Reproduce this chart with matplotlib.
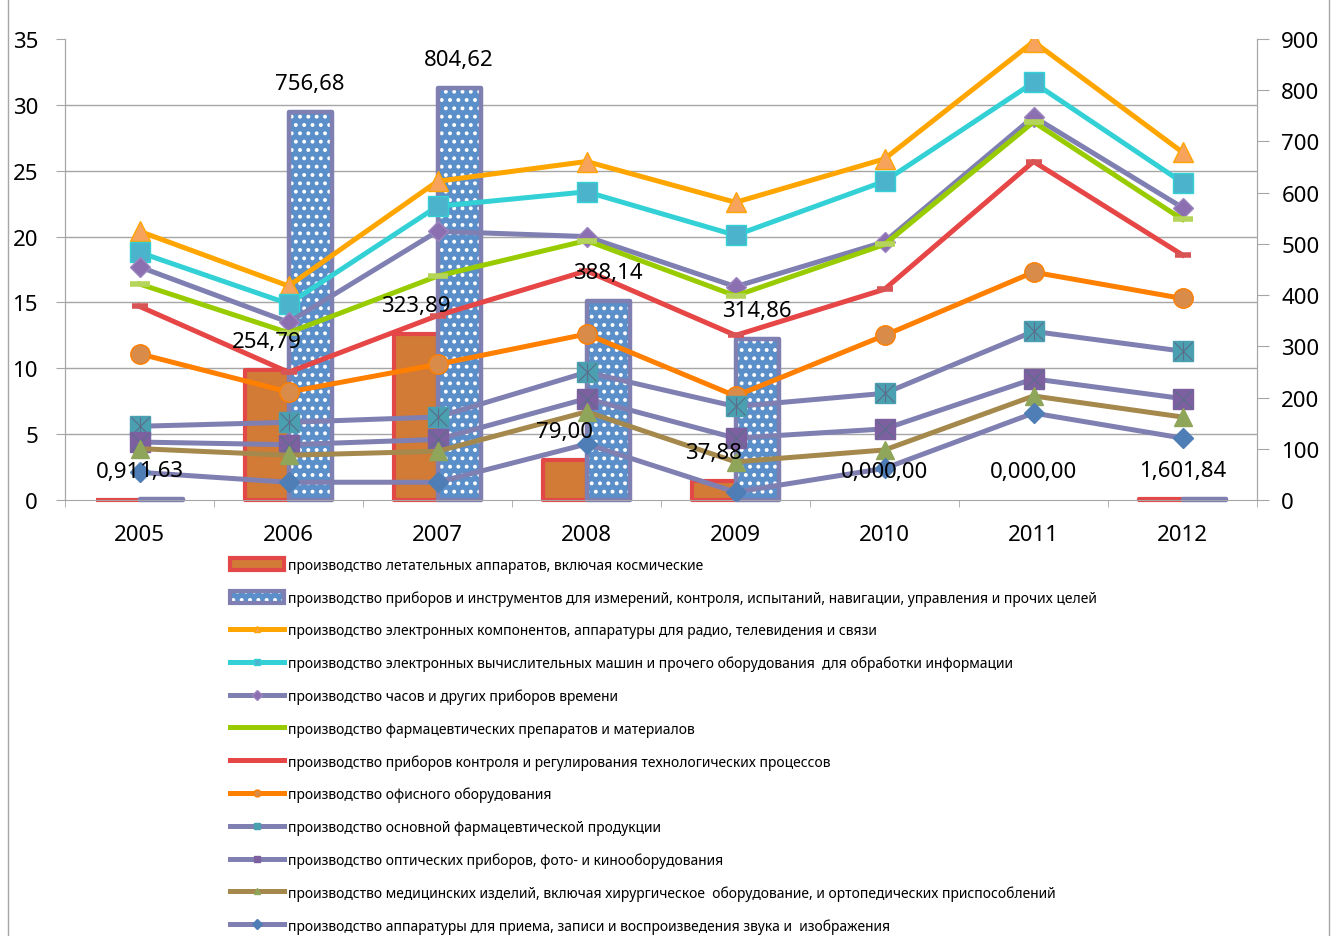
import numpy as np
import matplotlib.pyplot as plt
from matplotlib.lines import Line2D
from matplotlib.patches import Patch
from matplotlib.legend_handler import HandlerTuple

plt.rcParams['font.family'] = ['Noto Sans', 'DejaVu Sans']
plt.rcParams['hatch.linewidth'] = 1.6

years = ['2005', '2006', '2007', '2008', '2009', '2010', '2011', '2012']

# bar series (right axis)
aircraft = [0.91, 254.79, 323.89, 79.00, 37.88, 0.00, 0.00, 1.60]
instruments = [1.63, 756.68, 804.62, 388.14, 314.86, 0.00, 0.00, 1.84]

# line series (left axis)
electronics = [20.4, 16.25, 24.2, 25.7, 22.6, 25.9, 34.8, 26.4]
computers = [18.8, 14.9, 22.3, 23.4, 20.1, 24.2, 31.7, 24.1]
clocks = [17.7, 13.5, 20.4, 20.0, 16.2, 19.6, 29.1, 22.2]
pharma_prep = [16.4, 12.7, 17.0, 19.7, 15.5, 19.4, 28.7, 21.3]
control = [14.7, 9.7, 14.0, 17.4, 12.5, 16.0, 25.7, 18.6]
office = [11.1, 8.2, 10.3, 12.6, 7.9, 12.5, 17.3, 15.3]
pharma_base = [5.6, 5.9, 6.3, 9.7, 7.1, 8.1, 12.8, 11.3]
optics = [4.4, 4.2, 4.6, 7.7, 4.7, 5.4, 9.2, 7.7]
medical = [3.9, 3.4, 3.7, 6.7, 2.9, 3.8, 7.9, 6.3]
audio_video = [2.1, 1.35, 1.35, 4.25, 0.6, 2.4, 6.6, 4.7]

names = [
    'производство летательных аппаратов, включая космические',
    'производство приборов и инструментов для измерений, контроля, испытаний, навигации, управления и прочих целей',
    'производство электронных компонентов, аппаратуры для радио, телевидения и связи',
    'производство электронных вычислительных машин и прочего оборудования  для обработки информации',
    'производство часов и других приборов времени',
    'производство фармацевтических препаратов и материалов',
    'производство приборов контроля и регулирования технологических процессов',
    'производство офисного оборудования',
    'производство основной фармацевтической продукции',
    'производство оптических приборов, фото- и кинооборудования',
    'производство медицинских изделий, включая хирургическое  оборудование, и ортопедических приспособлений',
    'производство аппаратуры для приема, записи и воспроизведения звука и  изображения',
]

GRAY = '#A6A6A6'
SLATE = '#7F7FB2'

# (values, line color, marker, marker face, marker edge, marker size, extra overlay markers)
line_styles = [
    (electronics, '#FFA500', '^', '#F7A35C', '#FFA500', 14, []),
    (computers, '#33D1D6', 's', '#4BB4CC', '#33D1D6', 14, []),
    (clocks, SLATE, 'D', '#8B6FB0', '#9C86C0', 10, []),
    (pharma_prep, '#99CC00', '_', '#B5D55A', '#B5D55A', 14, []),
    (control, '#E64646', '_', '#D95555', '#D95555', 12, []),
    (office, '#FF7F00', 'o', '#D98C4A', '#FF7F00', 14, []),
    (pharma_base, SLATE, 's', '#4A9FB0', '#4A9FB0', 14, ['x', '|']),
    (optics, SLATE, 's', '#7D60A0', '#7D60A0', 14, ['x']),
    (medical, '#A5884B', '^', '#8FA65A', '#8FA65A', 13, []),
    (audio_video, SLATE, 'D', '#4F7DB5', '#4F7DB5', 10, []),
]

fig = plt.figure(figsize=(13.36, 9.37), dpi=100)
ax_bar = fig.add_axes([0.0487, 0.4653, 0.8922, 0.4920])
ax = ax_bar.twinx()

x = np.arange(len(years))
w = 0.29

# bars: zero values are not drawn at all
lw_a = [3 if v > 0 else 0 for v in aircraft]
lw_i = [3.2 if v > 0 else 0 for v in instruments]
ax_bar.bar(x - w / 2, aircraft, w, color='#D27B36', edgecolor='#E34848',
           linewidth=lw_a, joinstyle='round', clip_on=False, zorder=2)
# blue bars: fill, white dot pattern, then the outline on top
ax_bar.bar(x + w / 2, instruments, w, color='#5B8FC9', linewidth=0, zorder=2)
ax_bar.bar(x + w / 2, instruments, w, facecolor='none', edgecolor='white',
           linewidth=0, hatch='..', zorder=2)
ax_bar.bar(x + w / 2, instruments, w, facecolor='none', edgecolor=SLATE,
           linewidth=lw_i, joinstyle='round', clip_on=False, zorder=2)

ax_bar.set_xlim(-0.5, 7.5)
ax_bar.set_ylim(0, 900)
ax_bar.set_yticks(np.arange(0, 901, 100))
ax_bar.yaxis.tick_right()

# horizontal grid follows the left axis ticks, drawn behind the bars
left_ticks = np.arange(0, 36, 5)
ax_bar.set_yticks(left_ticks * 900 / 35, minor=True)
ax_bar.yaxis.grid(True, which='minor', color=GRAY, lw=1)
ax_bar.tick_params(axis='y', which='minor', length=0)
ax_bar.tick_params(axis='y', which='major', direction='out', length=8.5,
                   pad=9, labelsize=16, color=GRAY)

ax_bar.set_xticks(x)
ax_bar.set_xticklabels(years)
ax_bar.set_xticks(np.arange(-0.5, 8, 1), minor=True)
ax_bar.tick_params(axis='x', which='major', length=0, pad=17, labelsize=16)
ax_bar.tick_params(axis='x', which='minor', direction='out', length=5, color=GRAY)

ax.set_ylim(0, 35)
ax.set_yticks(left_ticks)
ax.yaxis.tick_left()
ax.tick_params(axis='y', direction='out', length=6.5, pad=13, labelsize=16, color=GRAY)

for a in (ax, ax_bar):
    a.spines['top'].set_visible(False)
    for s in ('left', 'right', 'bottom'):
        a.spines[s].set_color(GRAY)
ax.spines['bottom'].set_visible(False)

for vals, color, marker, mface, medge, ms, extra in line_styles:
    if marker == '_':
        ax.plot(x, vals, color=color, lw=3.6, marker=marker, ms=ms,
                mec=medge, mew=4, zorder=3)
    else:
        ax.plot(x, vals, color=color, lw=3.6, marker=marker, ms=ms,
                mfc=mface, mec=medge, mew=1, zorder=3)
    for m in extra:
        ax.plot(x, vals, ls='none', marker=m, ms=ms * 0.95, mec='#5A6E8C',
                mew=0.8, zorder=3)

# value labels above the bars
def fmt(v):
    return f'{v:.2f}'.replace('.', ',')

for xs, vals in ((x - w / 2, aircraft), (x + w / 2, instruments)):
    for xi, v in zip(xs, vals):
        ax.annotate(fmt(v), xy=(xi, v), xycoords=ax_bar.transData,
                    xytext=(0, 20.5), textcoords='offset points',
                    ha='center', va='center', fontsize=16, zorder=5)

handles = [
    Patch(facecolor='#D27B36', edgecolor='#E34848', lw=3),
    (Patch(facecolor='#5B8FC9', lw=0),
     Patch(facecolor='none', edgecolor='white', lw=0, hatch='..'),
     Patch(facecolor='none', edgecolor=SLATE, lw=3)),
]
for vals, color, marker, mface, medge, ms, extra in line_styles:
    if marker == '_':
        handles.append(Line2D([], [], color=color, lw=3.6))
    else:
        handles.append(Line2D([], [], color=color, lw=3.6, marker=marker,
                              ms=5, mfc=mface, mec=medge))

fig.legend(handles, names, loc='upper left', bbox_to_anchor=(230 / 1336, 1 - 559 / 937),
           frameon=False, fontsize=10, handlelength=3.9, handleheight=0.9,
           handletextpad=0.3, labelspacing=1.25, borderaxespad=0, borderpad=0,
           handler_map={tuple: HandlerTuple(ndivide=1, pad=0)})

# outer chart border
for xf in (8 / 1336, 1329 / 1336):
    fig.add_artist(Line2D([xf, xf], [0, 1], transform=fig.transFigure, color=GRAY, lw=1))

fig.savefig('out.png', dpi=100)
